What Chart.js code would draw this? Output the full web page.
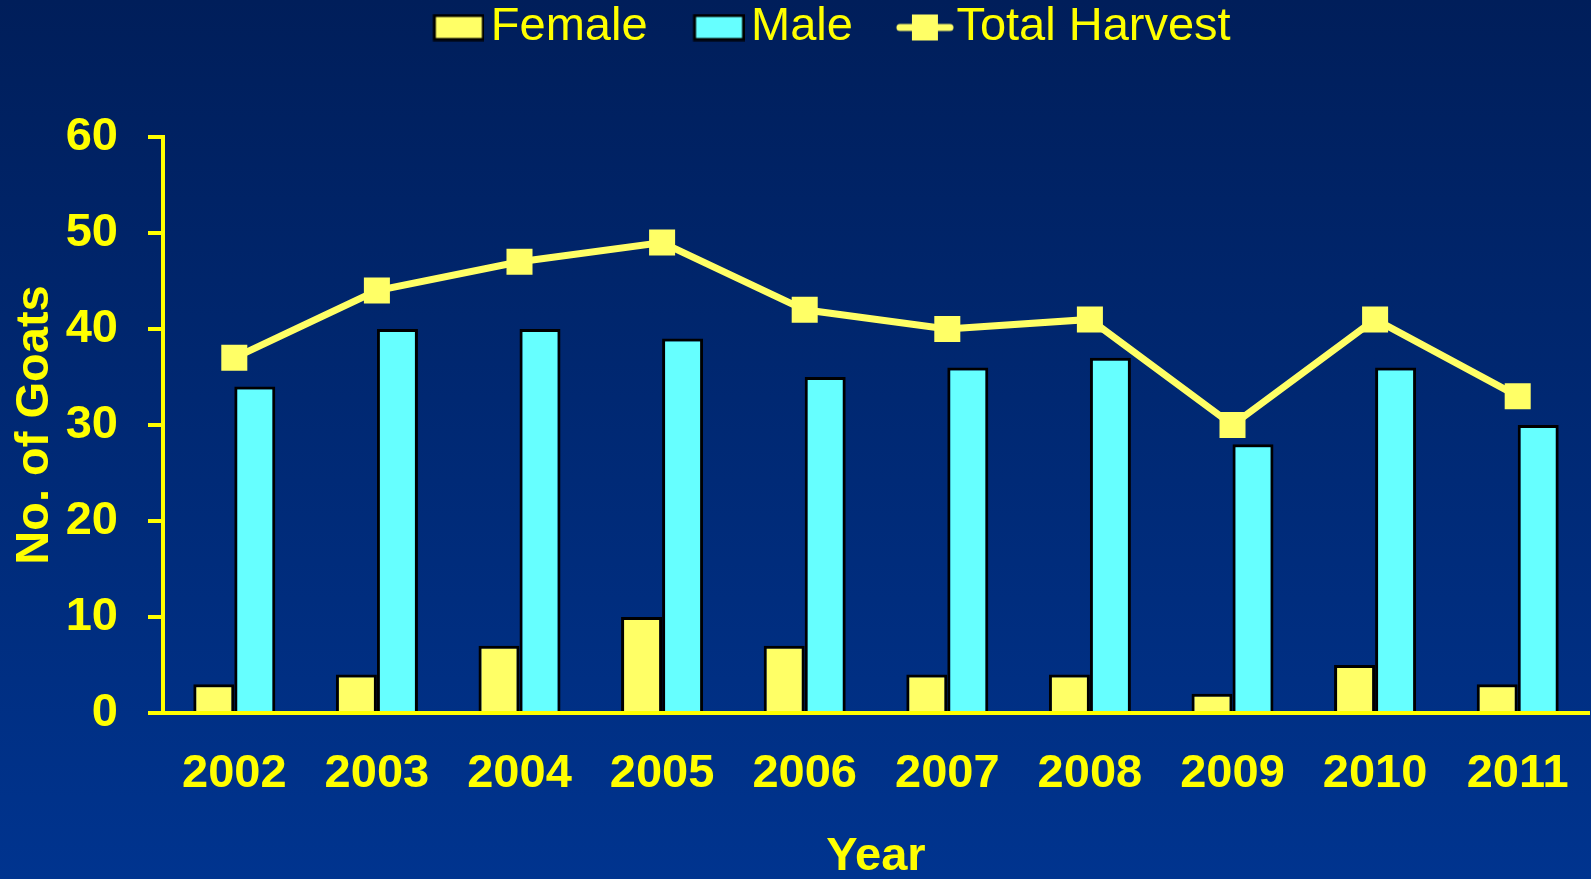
<!DOCTYPE html>
<html>
<head>
<meta charset="utf-8">
<script src="https://cdn.jsdelivr.net/npm/chart.js@4.4.1/dist/chart.umd.min.js"></script>
<style>
  html, body { margin: 0; padding: 0; }
  body { width: 1591px; height: 879px; background: linear-gradient(to bottom, #001e5a 0%, #00348f 100%); overflow: hidden; }
  canvas { display: block; }
</style>
</head>
<body>
<canvas id="goatChart" width="1591" height="879"></canvas>
<script>
const years = ["2002", "2003", "2004", "2005", "2006", "2007", "2008", "2009", "2010", "2011"];
const femaleGoats = [3, 4, 7, 10, 7, 4, 4, 2, 5, 3];
const maleGoats = [34, 40, 40, 39, 35, 36, 37, 28, 36, 30];
const totalHarvest = [37, 44, 47, 49, 42, 40, 41, 30, 41, 33];

const yellow = "#FFFF00";
const paleYellow = "#FFFF66";
const cyan = "#66FFFF";
Chart.defaults.font.family = "'Liberation Sans', Arial, sans-serif";

// legend swatches (box or line+square), drawn once into small canvases
function boxSwatch(fill) {
    const c = document.createElement("canvas");
    c.width = 110; c.height = 28;
    const g = c.getContext("2d");
    g.fillStyle = fill;
    g.strokeStyle = "#000";
    g.lineWidth = 3;
    g.fillRect(60, 2, 49, 24);
    g.strokeRect(60, 2, 49, 24);
    return c;
}
function lineSwatch() {
    const c = document.createElement("canvas");
    c.width = 118; c.height = 28;
    const g = c.getContext("2d");
    g.strokeStyle = paleYellow;
    g.lineWidth = 7;
    g.lineCap = "round";
    g.beginPath(); g.moveTo(64, 14); g.lineTo(114, 14); g.stroke();
    g.fillStyle = paleYellow;
    g.fillRect(76, 1, 26, 26);
    return c;
}

const legendHeight = {
    id: "legendHeight",
    afterInit(chart) {
        const fit = chart.legend.fit;
        chart.legend.fit = function () { fit.call(this); this.height = 137; };
    }
};

new Chart(document.getElementById("goatChart"), {
    type: "bar",
    data: {
        labels: years,
        datasets: [{
            type: "line",
            label: "Total Harvest",
            data: totalHarvest,
            borderColor: paleYellow,
            borderWidth: 7,
            pointStyle: "rect",
            pointRadius: 18.4,
            pointBackgroundColor: paleYellow,
            pointBorderWidth: 0,
            tension: 0,
            order: 0
        }, {
            label: "Female",
            data: femaleGoats,
            backgroundColor: paleYellow,
            borderColor: "#000",
            borderWidth: 3,
            order: 1
        }, {
            label: "Male",
            data: maleGoats,
            backgroundColor: cyan,
            borderColor: "#000",
            borderWidth: 3,
            order: 1
        }]
    },
    options: {
        responsive: false,
        animation: false,
        datasets: { bar: { categoryPercentage: 0.575, barPercentage: 1 } },
        layout: { autoPadding: false, padding: { left: 33, right: 2, top: 0, bottom: 0 } },
        plugins: {
            tooltip: { enabled: false },
            legend: {
                display: true,
                position: "top",
                labels: {
                    color: yellow,
                    font: { size: 47 },
                    usePointStyle: true,
                    pointStyleWidth: 76,
                    padding: 4,
                    generateLabels: () => [
                        { text: "Female", pointStyle: boxSwatch(paleYellow), fillStyle: paleYellow, strokeStyle: "#000", lineWidth: 0, fontColor: yellow, hidden: false, datasetIndex: 1 },
                        { text: "Male", pointStyle: boxSwatch(cyan), fillStyle: cyan, strokeStyle: "#000", lineWidth: 0, fontColor: yellow, hidden: false, datasetIndex: 2 },
                        { text: "Total Harvest", pointStyle: lineSwatch(), fillStyle: paleYellow, strokeStyle: paleYellow, lineWidth: 0, fontColor: yellow, hidden: false, datasetIndex: 0 }
                    ]
                }
            }
        },
        scales: {
            x: {
                z: 1,
                grid: { display: false, drawTicks: false },
                border: { color: yellow, width: 4 },
                // tall line height pushes labels down without adding side padding
                ticks: { color: yellow, font: { size: 47, weight: "bold", lineHeight: 2.6 }, padding: 0, maxRotation: 0 },
                title: { display: true, text: "Year", color: yellow, font: { size: 47, weight: "bold" }, padding: { top: 0, bottom: -6 } },
                afterFit: (scale) => { scale.height = 166; }
            },
            y: {
                min: 0,
                max: 60,
                ticks: { stepSize: 10, color: yellow, font: { size: 47, weight: "bold" }, padding: 30 },
                grid: { drawOnChartArea: false, drawTicks: true, tickLength: 15, color: yellow, lineWidth: 4 },
                border: { color: yellow, width: 4 },
                title: { display: true, text: "No. of Goats", color: yellow, font: { size: 47, weight: "bold" }, padding: { top: -26, bottom: 0 } },
                afterFit: (scale) => { scale.width = 130; }
            }
        }
    },
    plugins: [legendHeight]
});
</script>
</body>
</html>
